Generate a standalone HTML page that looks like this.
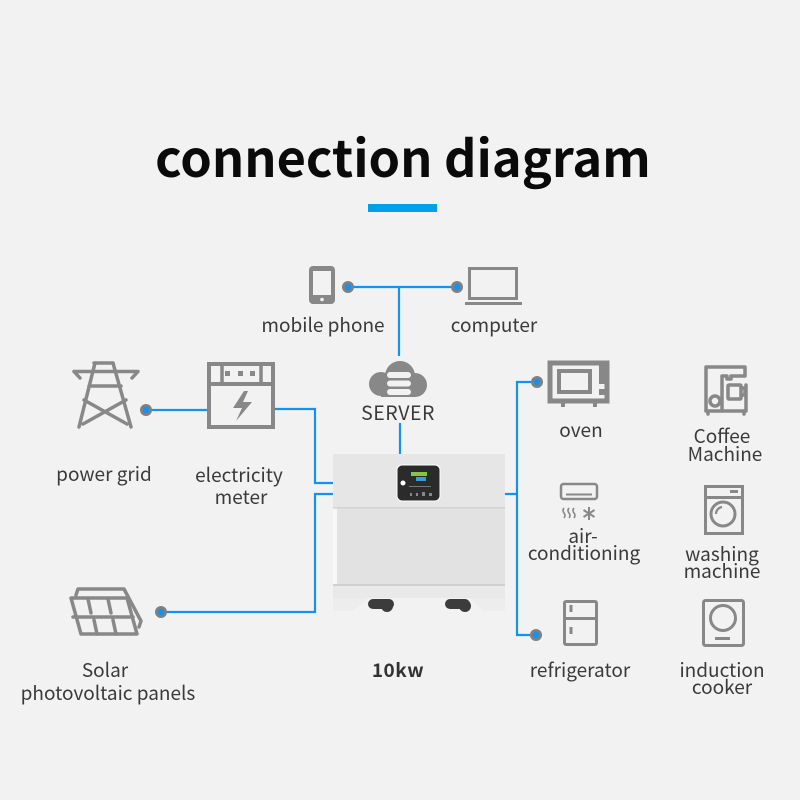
<!DOCTYPE html>
<html><head><meta charset="utf-8"><style>
html,body{margin:0;padding:0;background:#f2f2f2;}
svg{display:block;}
.t{font-family:"Noto Sans CJK SC","Liberation Sans",sans-serif;fill:#3a3a3a;font-size:19px;text-anchor:middle;}
.ln{stroke:#1592ee;stroke-width:2.2;fill:none;}
.ic{stroke:#888;stroke-width:3.5;fill:none;stroke-linejoin:round;stroke-linecap:round;}
</style></head><body>
<svg width="800" height="800" viewBox="0 0 800 800" xmlns="http://www.w3.org/2000/svg">
<rect width="800" height="800" fill="#f2f2f2"/>
<!-- title -->
<text x="403" y="177" font-family="'Noto Sans CJK SC','Liberation Sans',sans-serif" font-weight="700" font-size="50.5" fill="#0a0a0a" text-anchor="middle">connection diagram</text>
<rect x="368" y="204" width="69" height="8" fill="#00a0e9"/>

<!-- connectors -->
<path class="ln" d="M348 287 H457 M399 287 V356 M400 423 V454"/>
<path class="ln" d="M146 410 H207 M275 409 H315 V483 H334 M334 494 H315 V612 H161"/>
<path class="ln" d="M504 494 H517 M537 382 H517 V635 H536"/>

<!-- dots -->
<g fill="#808080">
<circle cx="348" cy="287" r="6"/><circle cx="457" cy="287" r="6"/>
<circle cx="146" cy="410" r="6"/><circle cx="161" cy="612" r="6"/>
<circle cx="537" cy="382" r="6"/><circle cx="536" cy="635" r="6"/>
</g>
<g fill="#1592ee">
<circle cx="348" cy="287" r="3.2"/><circle cx="457" cy="287" r="3.2"/>
<circle cx="146" cy="410" r="3.2"/><circle cx="161" cy="612" r="3.2"/>
<circle cx="537" cy="382" r="3.2"/><circle cx="536" cy="635" r="3.2"/>
</g>

<!-- phone -->
<rect x="309" y="266" width="26" height="38" rx="4" fill="#888"/>
<rect x="313" y="271" width="18" height="24" fill="#f2f2f2"/>
<circle cx="322" cy="299.5" r="1.8" fill="#f2f2f2"/>
<!-- laptop -->
<rect x="469.5" y="268.5" width="47" height="30" fill="none" stroke="#888" stroke-width="3"/>
<rect x="465" y="302" width="57" height="3" fill="#888"/>

<!-- cloud -->
<g fill="#888">
<circle cx="381" cy="384" r="12"/><circle cx="400" cy="376" r="15"/><circle cx="415" cy="385" r="12"/>
<rect x="381" y="380" width="34" height="17"/>
</g>
<g fill="#f2f2f2">
<rect x="387" y="372" width="24" height="6" rx="3"/>
<rect x="387" y="380.5" width="24" height="6" rx="3"/>
<rect x="387" y="389" width="24" height="6" rx="3"/>
</g>
<text class="t" x="398" y="420" style="font-size:19.5px;letter-spacing:0.5px">SERVER</text>

<text class="t" x="323" y="332">mobile phone</text>
<text class="t" x="494" y="332">computer</text>

<!-- tower -->
<g class="ic" stroke-width="4.5">
<path d="M94 363 H113"/>
<path d="M74 371.5 H138 L132 378 M74 371.5 L80 378"/>
<path d="M89 386 H121"/>
<path d="M95 363 L79 427 M113 363 L131 427"/>
<path d="M84 400 L127 424 M126 400 L83 424"/>
</g>
<!-- meter -->
<rect x="209" y="364" width="64" height="63" fill="none" stroke="#888" stroke-width="4"/>
<path d="M209 384 H273" stroke="#888" stroke-width="4"/>
<path d="M222 364 V383 M261 364 V383" stroke="#888" stroke-width="3.5"/>
<rect x="225" y="371" width="5" height="5" fill="#888"/><rect x="238" y="371" width="5" height="5" fill="#888"/><rect x="250" y="371" width="5" height="5" fill="#888"/>
<path d="M244 391 L233 408 L242 408 L236 421 L252 402 L243 402 L248 391 Z" fill="#888"/>

<text class="t" x="104" y="481">power grid</text>
<text class="t" x="239" y="482">electricity</text>
<text class="t" x="241" y="504">meter</text>

<!-- solar -->
<g class="ic" stroke-width="3">
<path d="M76 595 L78 589 H124 L141 621 L139 627"/>
<path d="M71 598 H127 L137 634 H81 Z"/>
<path d="M73 617 H133"/>
<path d="M88 599 L91 613 M108 599 L111 613 M94 620 L97 634 M113 620 L116 634"/>
</g>
<text class="t" x="105" y="677">Solar</text>
<text class="t" x="108" y="700">photovoltaic panels</text>

<!-- device -->
<rect x="333" y="454" width="172" height="131" fill="#e2e2e2"/>
<rect x="333" y="454" width="4" height="156" fill="#f8f8f8"/>
<rect x="333" y="454" width="172" height="54" fill="#e6e6e6"/>
<rect x="333" y="507" width="172" height="1.5" fill="#d2d2d2"/>
<rect x="333" y="584" width="172" height="2" fill="#d0d0d0"/>
<rect x="333" y="586" width="172" height="12" fill="#e9e9e9"/>
<path d="M333 598 H505 V611 H484 L470 598 H368 L353 611 H333 Z" fill="#ededed"/>
<rect x="397" y="465" width="43" height="36" rx="5" fill="#2b2b2b" stroke="#fff" stroke-width="1"/>
<circle cx="403" cy="483" r="2.5" fill="#fff"/>
<rect x="411" y="472" width="16" height="4" fill="#7fc84a"/><rect x="416" y="477" width="10" height="4" fill="#3a9bd6"/>
<rect x="409" y="486" width="22" height="1" fill="#777"/>
<g fill="#888"><rect x="410" y="493" width="2" height="3"/><rect x="416" y="493" width="2" height="3"/><rect x="422" y="492" width="3" height="4"/><rect x="429" y="493" width="3" height="3"/></g>
<g fill="#3c3c3c">
<rect x="368" y="599" width="26" height="10" rx="5"/><circle cx="387" cy="606" r="6"/>
<rect x="445" y="599" width="25" height="10" rx="5"/><circle cx="465" cy="606" r="6"/>
</g>
<text x="398" y="677" font-family="'Noto Sans CJK SC','Liberation Sans',sans-serif" font-weight="700" font-size="19" fill="#333" text-anchor="middle" letter-spacing="0.5">10kw</text>

<!-- oven -->
<rect x="550" y="363" width="57" height="38" fill="none" stroke="#888" stroke-width="5"/>
<rect x="559" y="371" width="31" height="21" fill="none" stroke="#888" stroke-width="4"/>
<rect x="599" y="365" width="6" height="19" fill="#888"/>
<rect x="599" y="389" width="6" height="6" fill="#888"/>
<rect x="561" y="401" width="4" height="6" fill="#888"/><rect x="593" y="401" width="4" height="6" fill="#888"/>
<text class="t" x="581" y="437">oven</text>

<!-- AC -->
<rect x="561" y="484" width="36" height="15" rx="2.5" fill="none" stroke="#888" stroke-width="2.5"/>
<path d="M566 494.5 H592" stroke="#888" stroke-width="2"/>
<g stroke="#888" stroke-width="1.6" fill="none">
<path d="M564 508 q-2 2.5 0 5 q2 2.5 0 5"/>
<path d="M569 508 q-2 2.5 0 5 q2 2.5 0 5"/>
<path d="M574 508 q-2 2.5 0 5 q2 2.5 0 5"/>
<path d="M589 507 V520 M583.5 510 L594.5 517 M594.5 510 L583.5 517" stroke-width="2"/>
</g>
<text class="t" x="583" y="543">air-</text>
<text class="t" x="584" y="560">conditioning</text>

<!-- fridge -->
<rect x="564.5" y="601.5" width="32" height="43" rx="1.5" fill="none" stroke="#888" stroke-width="3"/>
<path d="M564 618.5 H597" stroke="#888" stroke-width="3"/>
<rect x="569.5" y="605" width="3" height="7" fill="#888"/>
<rect x="569.5" y="627" width="3" height="7" fill="#888"/>
<text class="t" x="580" y="677">refrigerator</text>

<!-- coffee -->
<g class="ic" stroke-width="2.8">
<path d="M706 411 V367 H745 V376 H731 V379 H727 V376 H722 V411"/>
<path d="M706 411 H746 V385"/>
<rect x="728" y="385" width="13" height="14" rx="1"/>
<path d="M741 388 H745 V395 H741"/>
<circle cx="715" cy="401" r="5"/>
<path d="M708 411 V414 M744 411 V414"/>
</g>
<text class="t" x="722" y="443">Coffee</text>
<text class="t" x="725" y="461">Machine</text>

<!-- washing -->
<rect x="705.5" y="486.5" width="37" height="47" fill="none" stroke="#888" stroke-width="3"/>
<path d="M705 497.5 H743" stroke="#888" stroke-width="3"/>
<rect x="730" y="490" width="8" height="3" fill="#888"/>
<circle cx="723" cy="514" r="12" fill="none" stroke="#888" stroke-width="3"/>
<path d="M716 514 A7 7 0 0 1 722 507" fill="none" stroke="#888" stroke-width="2.2"/>
<text class="t" x="722" y="561">washing</text>
<text class="t" x="722" y="578">machine</text>

<!-- induction -->
<rect x="703.5" y="600.5" width="40" height="45" rx="2" fill="none" stroke="#888" stroke-width="3"/>
<circle cx="723" cy="618" r="12.5" fill="none" stroke="#888" stroke-width="3"/>
<rect x="715" y="637" width="15" height="3" fill="#888"/>
<text class="t" x="722" y="677">induction</text>
<text class="t" x="722" y="694">cooker</text>
</svg>
</body></html>
